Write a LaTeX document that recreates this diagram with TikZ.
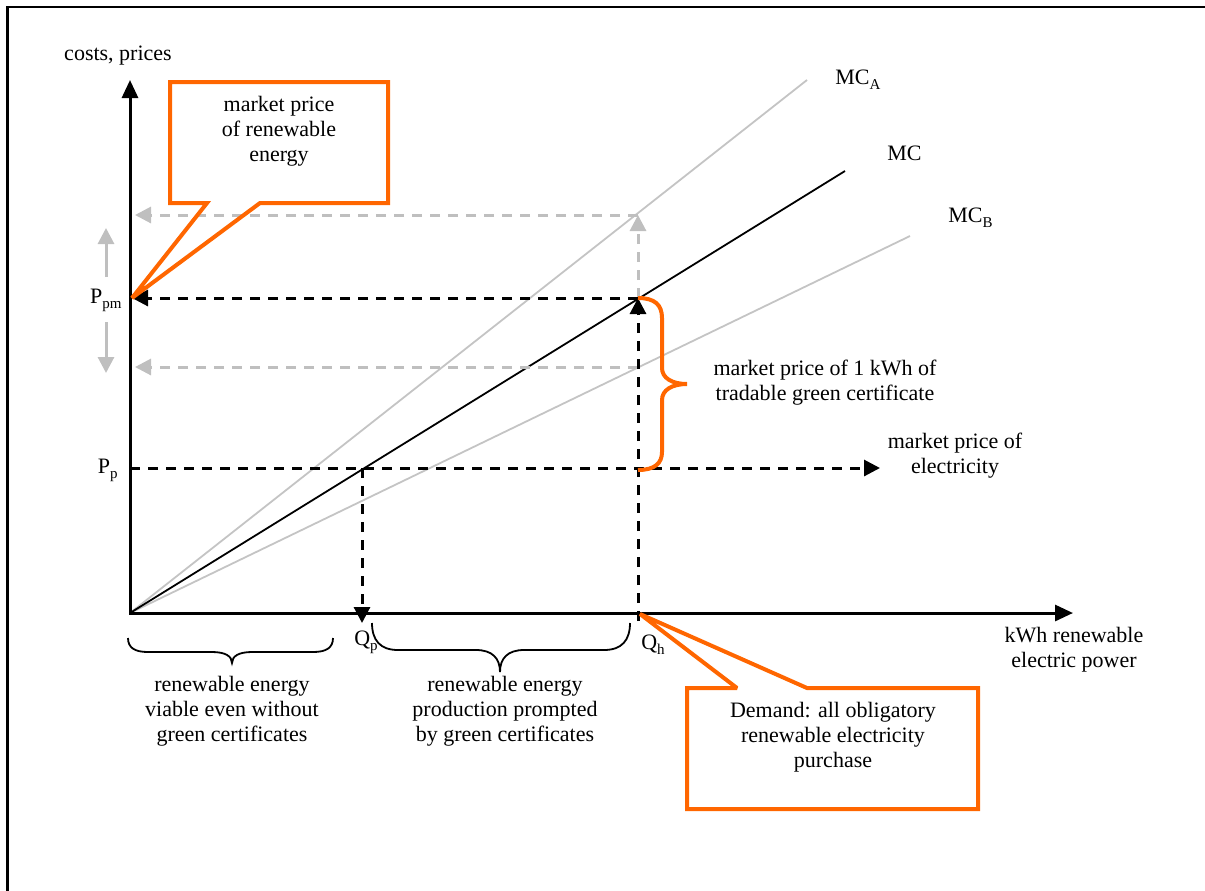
\documentclass[tikz,border=0pt]{standalone}
\usepackage{fontspec}
\setmainfont{Liberation Serif}
\usetikzlibrary{arrows.meta}
\definecolor{callorange}{HTML}{FF6600}
\definecolor{lightgrey}{HTML}{BFBFBF}
\definecolor{curvegrey}{HTML}{C4C4C4}
\newcommand\lowsub[1]{\raisebox{-0.5ex}{\fontsize{7.5}{8}\selectfont #1}}

\begin{document}
\begin{tikzpicture}[x=0.5pt,y=-0.5pt,
  txt/.style={font=\fontsize{11}{12.5}\selectfont, align=center, inner sep=0pt},
  axisline/.style={line width=1.5pt, line join=miter,
    {Triangle[length=9pt,width=8pt]}-{Triangle[length=9pt,width=8pt]}},
  guide/.style={line width=1.5pt, dash pattern=on 5pt off 4pt,
    -{Triangle[length=8pt,width=8pt]}},
  greyguide/.style={guide, draw=lightgrey},
  greyarrow/.style={line width=1.5pt, draw=lightgrey,
    -{Triangle[length=8pt,width=8pt]}},
  costline/.style={line width=0.9pt, draw=curvegrey},
  mainline/.style={line width=0.9pt, draw=black},
  callout/.style={line width=2pt, draw=callorange, line join=miter, miter limit=3},
  orangebrace/.style={line width=2pt, draw=callorange},
  blackbrace/.style={line width=0.9pt, draw=black}
]
\useasboundingbox (0,0) rectangle (1205,890);

% page frame
\draw[line width=1.2pt] (7.5,900) -- (7.5,7) -- (1215,7);

% key points
\coordinate (O) at (130,613);
\coordinate (ytop) at (130,80);
\coordinate (xend) at (1073,613);
\coordinate (mcAend) at (807,80);
\coordinate (mcend) at (845,171);
\coordinate (mcBend) at (910,236);
\coordinate (E) at (638,298);
\coordinate (EA) at (638,215);
\coordinate (EB) at (638,367);
\coordinate (qhlow) at (638,621);
\coordinate (ppmtip) at (132,298);
\coordinate (hightip) at (135,215);
\coordinate (lowtip) at (135,367);
\coordinate (ppstart) at (130,468);
\coordinate (ppend) at (880,468);
\coordinate (qptop) at (362,468);
\coordinate (qptip) at (362,623);
\coordinate (qhtip) at (640,614);

% marginal cost curves
\draw[costline] (O) -- (mcAend);
\draw[costline] (O) -- (mcBend);
\draw[mainline] (O) -- (mcend);

% guide lines
\draw[greyguide] (E) -- (EA);
\draw[greyguide] (EA) -- (hightip);
\draw[greyguide] (EB) -- (lowtip);
\draw[guide] (E) -- (ppmtip);
\draw[guide] (qhlow) -- (E);
\draw[guide] (ppstart) -- (ppend);
\draw[guide] (qptop) -- (qptip);

% price shift arrows
\coordinate (upfrom) at (106,277);
\coordinate (upto) at (106,228);
\coordinate (downfrom) at (106,322);
\coordinate (downto) at (106,373);
\draw[greyarrow] (upfrom) -- (upto);
\draw[greyarrow] (downfrom) -- (downto);

% axes
\draw[axisline] (ytop) -- (O) -- (xend);

% certificate price brace
\draw[orangebrace] (638,298) .. controls (655,298) and (662,305) .. (662,318)
  -- (662,368) .. controls (662,378) and (672,384) .. (687,384)
  .. controls (672,384) and (662,390) .. (662,400)
  -- (662,452) .. controls (662,463) and (655,470) .. (638,470);

% quantity braces
\draw[blackbrace] (128,638) .. controls (128,648) and (135,652) .. (148,652)
  -- (212,652) .. controls (225,652) and (232,656) .. (232,663)
  .. controls (232,656) and (239,652) .. (252,652)
  -- (313,652) .. controls (326,652) and (333,648) .. (333,638);
\draw[blackbrace] (372,623) .. controls (372,640) and (380,650) .. (398,650)
  -- (476,650) .. controls (492,650) and (500,658) .. (500,672)
  .. controls (500,658) and (508,650) .. (524,650)
  -- (604,650) .. controls (622,650) and (630,640) .. (630,623);

% callouts
\draw[callout] (170,82) -- (388,82) -- (388,203) -- (260,203) -- (ppmtip)
  -- (207,203) -- (170,203) -- cycle;
\draw[callout] (687,688) -- (737,688) -- (qhtip) -- (807,688) -- (978,688)
  -- (978,809) -- (687,809) -- cycle;

% labels
\node[txt] (yaxislabel) at (118,56) {costs, prices};
\node[txt] (renewprice) at (279,131) {market price\\of renewable\\energy};
\node[txt, anchor=west] (mcAlabel) at (835,80) {MC\lowsub{A}};
\node[txt, anchor=west] (mclabel) at (887,153) {MC};
\node[txt, anchor=west] (mcBlabel) at (948,218) {MC\lowsub{B}};
\node[txt, anchor=east] (ppmlabel) at (122,300) {P\lowsub{pm}};
\node[txt, anchor=east] (pplabel) at (118,470) {P\lowsub{p}};
\node[txt] (qplabel) at (366,642) {Q\lowsub{p}};
\node[txt] (qhlabel) at (653,645) {Q\lowsub{h}};
\node[txt] (certlabel) at (825,383) {market price of 1 kWh of\\tradable green certificate};
\node[txt] (eleclabel) at (955,456) {market price of\\electricity};
\node[txt] (xaxislabel) at (1074,650) {kWh renewable\\electric power};
\node[txt] (viablelabel) at (232,711) {renewable energy\\viable even without\\green certificates};
\node[txt] (promptlabel) at (505,711) {renewable energy\\production prompted\\by green certificates};
\node[txt] (demandlabel) at (833,737) {Demand: all obligatory\\renewable electricity\\purchase};
\end{tikzpicture}
\end{document}
